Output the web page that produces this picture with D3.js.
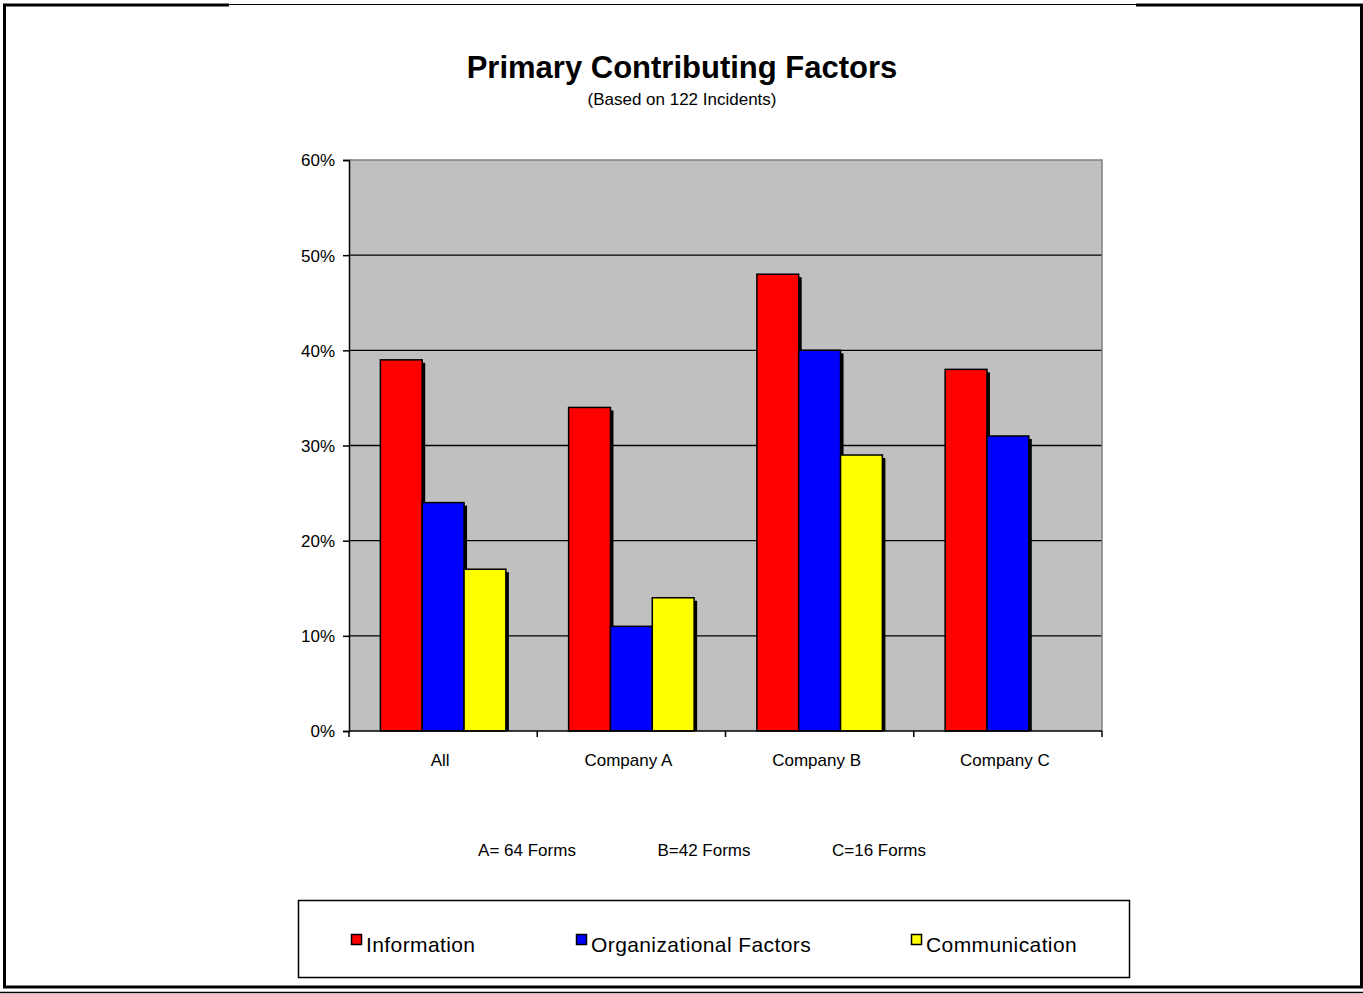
<!DOCTYPE html>
<html>
<head>
<meta charset="utf-8">
<script src="https://cdn.jsdelivr.net/npm/d3@7"></script>
<style>
  html, body { margin: 0; padding: 0; background: #fff; }
  svg { display: block; font-family: Arial, "Liberation Sans", sans-serif; }
</style>
</head>
<body>
<svg id="chart" width="1363" height="994"></svg>
<script>
// Chart data
const categories = ["All", "Company A", "Company B", "Company C"];
const seriesNames = ["Information", "Organizational Factors", "Communication"];
const seriesColors = ["#FF0000", "#0000FF", "#FFFF00"];
const information = [0.39, 0.34, 0.48, 0.38];
const organizational = [0.24, 0.11, 0.40, 0.31];
const communication = [0.17, 0.14, 0.29, 0];
const yTicks = [0, 0.1, 0.2, 0.3, 0.4, 0.5, 0.6];
const formNotes = ["A= 64 Forms", "B=42 Forms", "C=16 Forms"];

const seriesValues = [information, organizational, communication];

const svg = d3.select("#chart");

// Outer page frame
const frame = svg.append("g").attr("stroke", "#000").attr("fill", "none");
frame.append("line").attr("x1", 4.5).attr("x2", 4.5).attr("y1", 4).attr("y2", 988).attr("stroke-width", 3);
frame.append("line").attr("x1", 3).attr("x2", 229).attr("y1", 5).attr("y2", 5).attr("stroke-width", 3);
frame.append("line").attr("x1", 229).attr("x2", 1136).attr("y1", 4.5).attr("y2", 4.5).attr("stroke-width", 1.2);
frame.append("line").attr("x1", 1136).attr("x2", 1363).attr("y1", 5).attr("y2", 5).attr("stroke-width", 3);
frame.append("line").attr("x1", 1361.5).attr("x2", 1361.5).attr("y1", 4).attr("y2", 988).attr("stroke-width", 3);
frame.append("line").attr("x1", 3).attr("x2", 1363).attr("y1", 987).attr("y2", 987).attr("stroke-width", 3);
frame.append("line").attr("x1", 0).attr("x2", 1363).attr("y1", 992.5).attr("y2", 992.5).attr("stroke-width", 1.5);

// Titles
svg.append("text")
  .attr("x", 682).attr("y", 78)
  .attr("text-anchor", "middle")
  .attr("font-size", 31).attr("font-weight", "bold")
  .text("Primary Contributing Factors");
svg.append("text")
  .attr("x", 682).attr("y", 105)
  .attr("text-anchor", "middle")
  .attr("font-size", 17)
  .text("(Based on 122 Incidents)");

// Plot area
const plot = { left: 349, right: 1102, top: 160, bottom: 731 };

const x0 = d3.scaleBand().domain(categories).range([plot.left, plot.right]).paddingInner(0).paddingOuter(0);
const x1 = d3.scaleBand().domain(seriesNames).range([0, x0.bandwidth()]).paddingInner(0).paddingOuter(0.75);
const y = d3.scaleLinear().domain([0, 0.6]).range([plot.bottom, plot.top]);

svg.append("rect")
  .attr("x", plot.left).attr("y", plot.top)
  .attr("width", plot.right - plot.left).attr("height", plot.bottom - plot.top)
  .attr("fill", "#C0C0C0");

// Gridlines
svg.append("g").selectAll("line")
  .data(yTicks.filter(t => t > 0 && t < 0.6))
  .join("line")
  .attr("x1", plot.left).attr("x2", plot.right)
  .attr("y1", d => y(d)).attr("y2", d => y(d))
  .attr("stroke", "#000").attr("stroke-width", 1.3);

// Plot border (top / right in grey)
svg.append("path")
  .attr("d", `M${plot.left},${plot.top}H${plot.right}V${plot.bottom}`)
  .attr("fill", "none").attr("stroke", "#808080").attr("stroke-width", 1.5);

// Bars with drop shadow
const barData = [];
categories.forEach((c, ci) => {
  seriesNames.forEach((s, si) => {
    barData.push({ cat: c, series: s, value: seriesValues[si][ci], color: seriesColors[si] });
  });
});
const bars = barData.filter(d => d.value > 0);
const shadowOff = 3;

svg.append("g").selectAll("rect")
  .data(bars)
  .join("rect")
  .attr("x", d => x0(d.cat) + x1(d.series) + shadowOff)
  .attr("y", d => y(d.value) + shadowOff)
  .attr("width", x1.bandwidth())
  .attr("height", d => y(0) - y(d.value) - shadowOff)
  .attr("fill", "#000");

svg.append("g").selectAll("rect")
  .data(bars)
  .join("rect")
  .attr("x", d => x0(d.cat) + x1(d.series))
  .attr("y", d => y(d.value))
  .attr("width", x1.bandwidth())
  .attr("height", d => y(0) - y(d.value))
  .attr("fill", d => d.color)
  .attr("stroke", "#000").attr("stroke-width", 1.5);

// Y axis
const yAxis = d3.axisLeft(y)
  .tickValues(yTicks)
  .tickFormat(d3.format(".0%"))
  .tickSize(6).tickPadding(8);
const gy = svg.append("g").attr("transform", `translate(${plot.left},0)`).call(yAxis);
gy.select(".domain").attr("stroke", "#000").attr("stroke-width", 1.5);
gy.selectAll(".tick line").attr("stroke", "#000").attr("stroke-width", 1.5);
gy.selectAll(".tick text").attr("font-size", 17).attr("fill", "#000")
  .attr("font-family", "Arial, 'Liberation Sans', sans-serif").attr("dy", "0.35em");

// X axis: tick marks at category boundaries, labels centred in each band
const gx = svg.append("g").attr("transform", `translate(0,${plot.bottom})`);
gx.append("line").attr("x1", plot.left).attr("x2", plot.right)
  .attr("stroke", "#000").attr("stroke-width", 1.5);
const boundaries = categories.map(c => x0(c)).concat([plot.right]);
gx.selectAll(".bt").data(boundaries).join("line").attr("class", "bt")
  .attr("x1", d => d).attr("x2", d => d).attr("y1", 0).attr("y2", 6)
  .attr("stroke", "#000").attr("stroke-width", 1.5);
gx.selectAll("text").data(categories).join("text")
  .attr("x", d => x0(d) + x0.bandwidth() / 2 - 3)
  .attr("y", 35)
  .attr("text-anchor", "middle")
  .attr("font-size", 17)
  .text(d => d);

// Form counts
const noteX = [527, 704, 879];
svg.append("g").selectAll("text").data(formNotes).join("text")
  .attr("x", (d, i) => noteX[i]).attr("y", 856)
  .attr("text-anchor", "middle")
  .attr("font-size", 17)
  .text(d => d);

// Legend
svg.append("rect")
  .attr("x", 298.5).attr("y", 900.5).attr("width", 831).attr("height", 77)
  .attr("fill", "#fff").attr("stroke", "#000").attr("stroke-width", 1.5);
const legendX = [351, 576, 911];
const lg = svg.append("g").selectAll("g").data(seriesNames).join("g")
  .attr("transform", (d, i) => `translate(${legendX[i]},934)`);
lg.append("rect").attr("x", 0.5).attr("y", 0.5).attr("width", 10).attr("height", 10)
  .attr("fill", (d, i) => seriesColors[i]).attr("stroke", "#000").attr("stroke-width", 1.5);
lg.append("text").attr("x", 15).attr("y", 18)
  .attr("font-size", 21).attr("letter-spacing", 0.4)
  .text(d => d);
</script>
</body>
</html>
